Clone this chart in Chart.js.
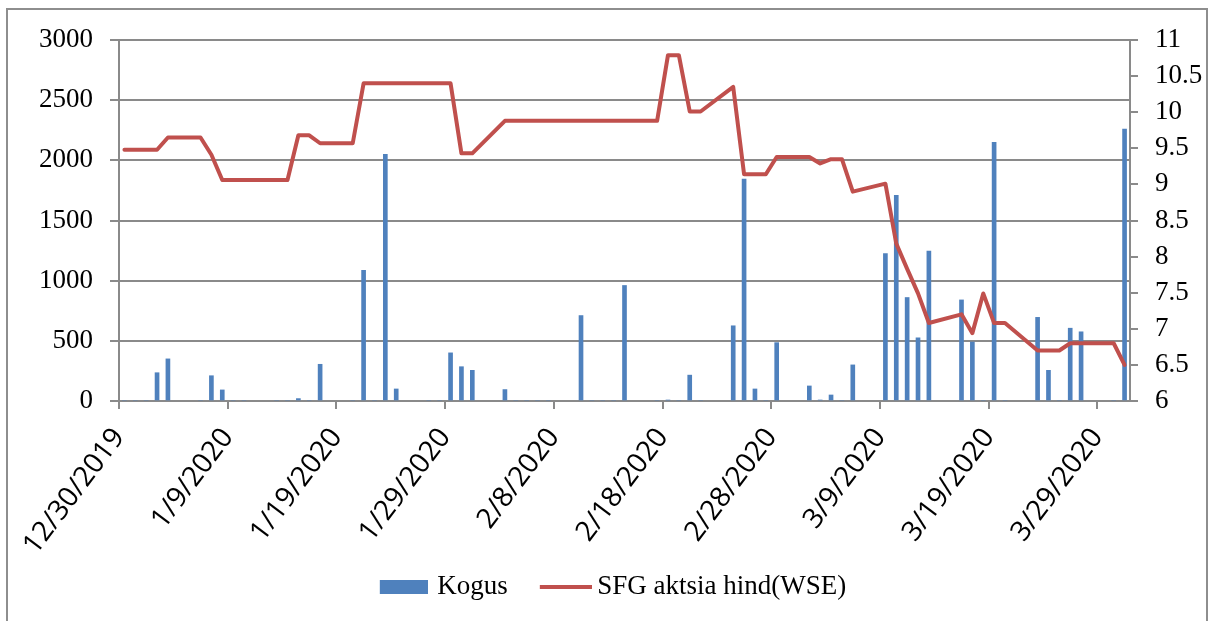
<!DOCTYPE html>
<html>
<head>
<meta charset="utf-8">
<script src="https://cdn.jsdelivr.net/npm/chart.js@4.4.1/dist/chart.umd.min.js"></script>
<style>
  html, body { margin: 0; padding: 0; background: #fff; }
  #wrap { position: relative; width: 1212px; height: 621px; overflow: hidden; }
  #frame { position: absolute; left: 6px; top: 8px; width: 1202px; height: 700px; border: 2px solid #8e8e8e; box-sizing: border-box; pointer-events: none; }
  #chart { position: absolute; left: 0; top: 0; }
</style>
</head>
<body>
<div id="wrap">
  <canvas id="chart" width="1212" height="621"></canvas>
  <div id="frame"></div>
</div>
<script>
// trading days shown on the chart
const startDate = "12/30/2019";
const tradeDates = [
  "12/30/2019", "12/31/2019", "1/1/2020", "1/2/2020", "1/3/2020",
  "1/6/2020", "1/7/2020", "1/8/2020", "1/9/2020", "1/10/2020",
  "1/13/2020", "1/14/2020", "1/15/2020", "1/16/2020", "1/17/2020",
  "1/20/2020", "1/21/2020", "1/22/2020", "1/23/2020", "1/24/2020",
  "1/27/2020", "1/28/2020", "1/29/2020", "1/30/2020", "1/31/2020",
  "2/3/2020", "2/4/2020", "2/5/2020", "2/6/2020", "2/7/2020",
  "2/10/2020", "2/11/2020", "2/12/2020", "2/13/2020", "2/14/2020",
  "2/17/2020", "2/18/2020", "2/19/2020", "2/20/2020", "2/21/2020",
  "2/24/2020", "2/25/2020", "2/26/2020", "2/27/2020", "2/28/2020",
  "3/2/2020", "3/3/2020", "3/4/2020", "3/5/2020", "3/6/2020",
  "3/9/2020", "3/10/2020", "3/11/2020", "3/12/2020", "3/13/2020",
  "3/16/2020", "3/17/2020", "3/18/2020", "3/19/2020", "3/20/2020",
  "3/23/2020", "3/24/2020", "3/25/2020", "3/26/2020", "3/27/2020",
  "3/30/2020", "3/31/2020"
];

// Kogus (volume), left axis
const volume = [
  0, 0, 0, 235, 350,
  0, 210, 92, 0, 0,
  0, 0, 20, 0, 305,
  0, 1085, 0, 2050, 100,
  0, 0, 400, 285, 255,
  95, 0, 0, 0, 0,
  710, 0, 0, 0, 960,
  0, 8, 0, 215, 0,
  625, 1845, 100, 0, 485,
  125, 8, 50, 0, 300,
  1225, 1710, 860, 525, 1245,
  840, 490, 0, 2150, 0,
  695, 255, 0, 605, 575,
  0, 2260
];

// SFG aktsia hind (WSE), right axis
const price = [
  9.48, 9.48, 9.48, 9.48, 9.65,
  9.65, 9.41, 9.06, 9.06, 9.06,
  9.06, 9.06, 9.68, 9.68, 9.57,
  9.57, 10.40, 10.40, 10.40, 10.40,
  10.40, 10.40, 10.40, 9.43, 9.43,
  9.88, 9.88, 9.88, 9.88, 9.88,
  9.88, 9.88, 9.88, 9.88, 9.88,
  9.88, 10.79, 10.79, 10.01, 10.01,
  10.35, 9.14, 9.14, 9.14, 9.38,
  9.38, 9.29, 9.35, 9.35, 8.90,
  9.01, 8.18, 7.83, 7.49, 7.08,
  7.20, 6.94, 7.49, 7.08, 7.08,
  6.70, 6.70, 6.70, 6.80, 6.80,
  6.80, 6.50
];

const tickLabels = ["12/30/2019", "1/9/2020", "1/19/2020", "1/29/2020", "2/8/2020",
  "2/18/2020", "2/28/2020", "3/9/2020", "3/19/2020", "3/29/2020"];
const axisDays = 93;

function dayIndex(s) {
  const p = s.split("/").map(Number);
  const q = startDate.split("/").map(Number);
  return Math.round((Date.UTC(p[2], p[0] - 1, p[1]) - Date.UTC(q[2], q[0] - 1, q[1])) / 86400000);
}

// legend icons: the visible swatch sits at the right end of a wider image
function makeIcon(w, h, visibleW, color) {
  const c = document.createElement("canvas");
  c.width = w; c.height = h;
  const g = c.getContext("2d");
  g.fillStyle = color;
  g.fillRect(w - visibleW, 0, visibleW, h);
  return c;
}
const barIcon = makeIcon(74, 14, 48, "#4f81bd");
const lineIcon = makeIcon(82, 4, 52, "#c0504d");

const gridGray = "#8a8a8a";
const serif = "'Liberation Serif', 'Times New Roman', serif";
const sans = "'Open Sans', 'Liberation Sans', sans-serif";

const volPoints = tradeDates.map((d, i) => ({ x: dayIndex(d) + 0.5, y: volume[i] }));
const pricePoints = tradeDates.map((d, i) => ({ x: dayIndex(d) + 0.5, y: price[i] }));

new Chart(document.getElementById("chart"), {
  type: "bar",
  data: {
    datasets: [
      {
        type: "bar",
        label: "Kogus",
        data: volPoints,
        backgroundColor: "#4f81bd",
        barThickness: 4,
        yAxisID: "y",
        order: 1
      },
      {
        type: "line",
        label: "SFG aktsia hind(WSE)",
        data: pricePoints,
        borderColor: "#c0504d",
        backgroundColor: "#c0504d",
        borderWidth: 4,
        pointRadius: 0,
        tension: 0,
        borderJoinStyle: "round",
        borderCapStyle: "round",
        yAxisID: "y1",
        order: 0
      }
    ]
  },
  options: {
    responsive: false,
    animation: false,
    devicePixelRatio: 1,
    layout: { padding: { left: 0, right: 8, top: 40, bottom: 10.5 } },
    plugins: {
      tooltip: { enabled: false },
      legend: {
        position: "bottom",
        labels: {
          usePointStyle: true,
          pointStyleWidth: 66,
          padding: 10,
          color: "#000",
          font: { family: serif, size: 27 },
          generateLabels: () => [
            { text: "Kogus", pointStyle: barIcon, datasetIndex: 0, hidden: false, lineWidth: 0, fontColor: "#000" },
            { text: "SFG aktsia hind(WSE)", pointStyle: lineIcon, datasetIndex: 1, hidden: false, lineWidth: 0, fontColor: "#000" }
          ]
        }
      }
    },
    scales: {
      x: {
        type: "linear",
        min: 0,
        max: axisDays,
        offset: false,
        afterBuildTicks: scale => { scale.ticks = tickLabels.map(l => ({ value: dayIndex(l) })); },
        afterFit: scale => { scale.height = 162.5; },
        grid: { offset: false, drawOnChartArea: false, drawTicks: true, tickLength: 8, color: gridGray, lineWidth: 2 },
        border: { display: true, color: gridGray, width: 2 },
        ticks: {
          autoSkip: false,
          minRotation: 53,
          maxRotation: 53,
          padding: 13,
          color: "#000",
          font: { family: sans, size: 28 },
          callback: (v, i) => tickLabels[i]
        }
      },
      y: {
        position: "left",
        min: 0,
        max: 3000,
        afterFit: scale => { scale.width = 119; },
        grid: { color: gridGray, lineWidth: 2, tickLength: 9, drawTicks: true },
        border: { display: true, color: gridGray, width: 2 },
        ticks: { stepSize: 500, padding: 17, color: "#000", font: { family: serif, size: 27 }, callback: v => String(v) }
      },
      y1: {
        position: "right",
        min: 6,
        max: 11,
        afterFit: scale => { scale.width = 74; },
        grid: { drawOnChartArea: false, color: gridGray, lineWidth: 2, tickLength: 8, drawTicks: true },
        border: { display: true, color: gridGray, width: 2 },
        ticks: { stepSize: 0.5, padding: 17, color: "#000", font: { family: serif, size: 27 }, callback: v => String(v) }
      }
    }
  }
});
</script>
</body>
</html>
